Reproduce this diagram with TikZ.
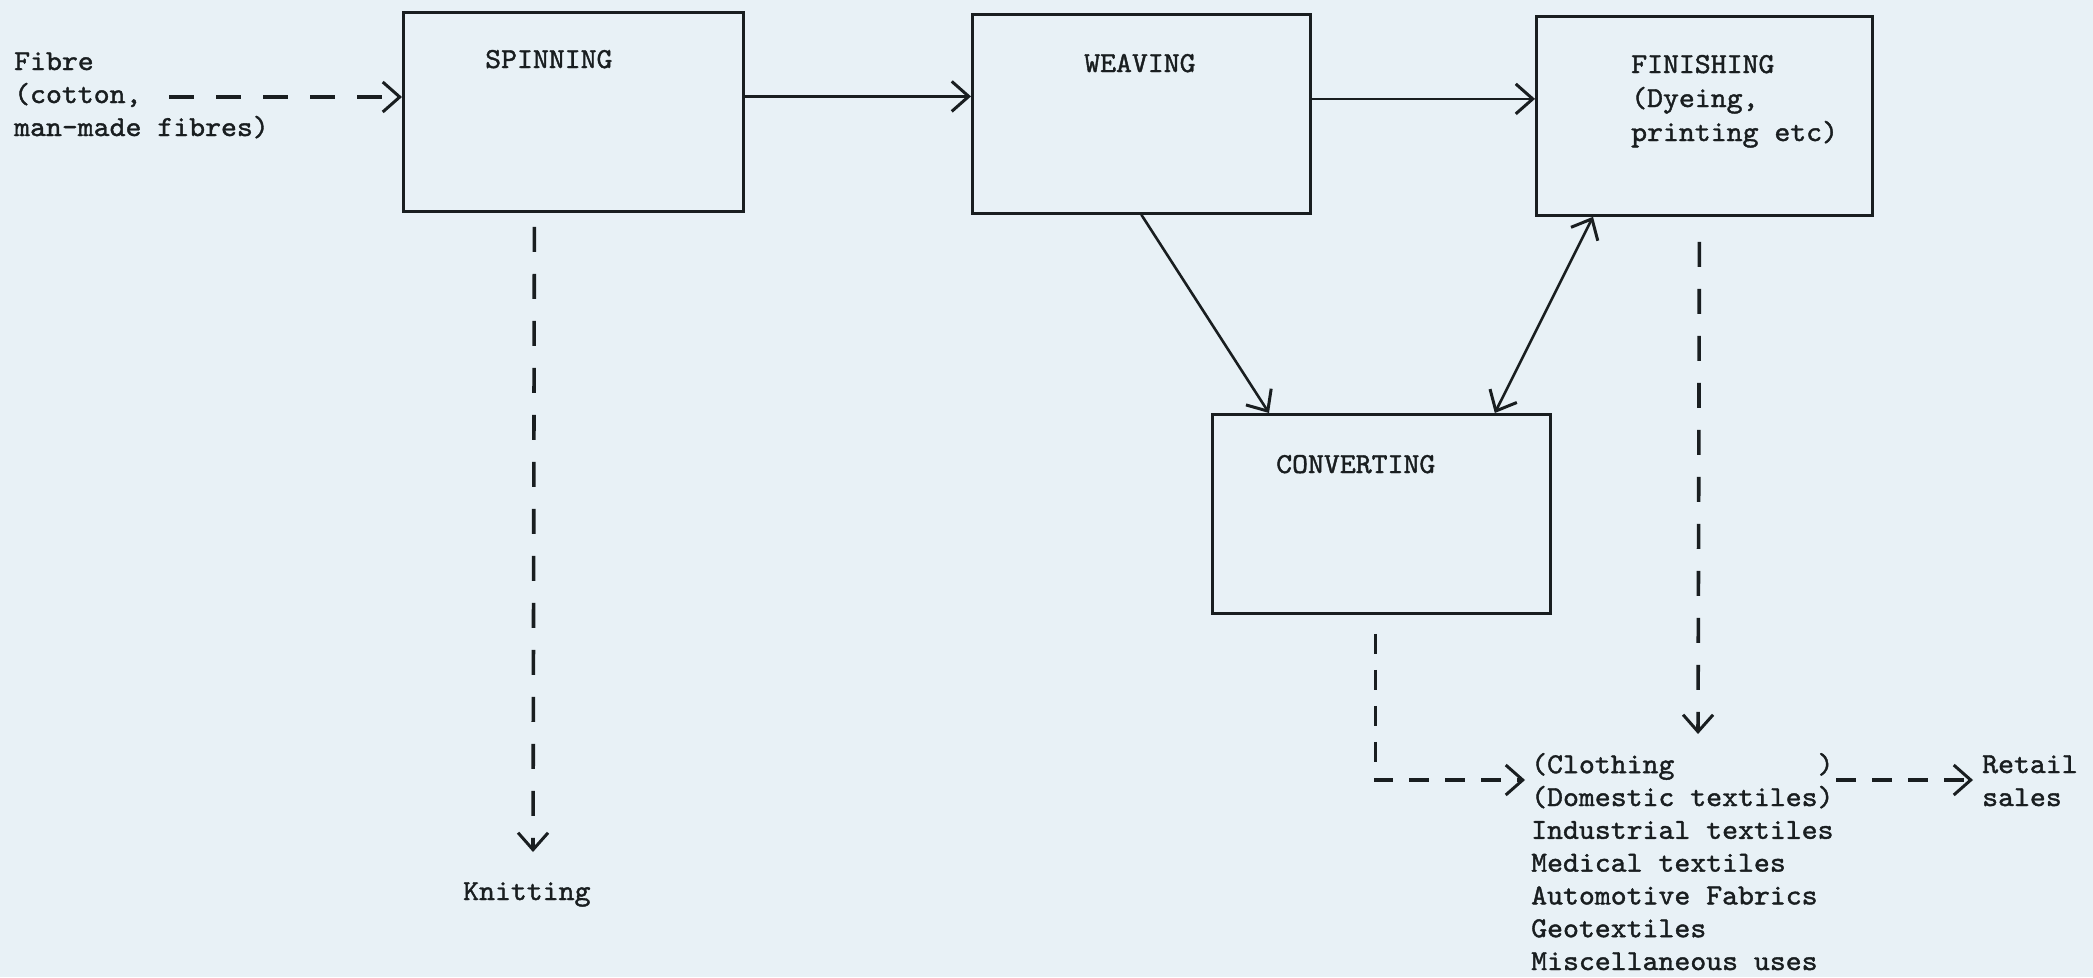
\documentclass[tikz,border=0pt]{standalone}
\usepackage{fontspec}
\newfontfamily\twfont[FakeStretch=1.045,FakeBold=1.4]{lmmono10-regular.otf}
\usetikzlibrary{arrows.meta}
\definecolor{paper}{RGB}{232,241,246}
\definecolor{ink}{RGB}{25,30,32}
\begin{document}
\begin{tikzpicture}[x=1pt,y=-1pt,
  every node/.style={inner sep=0pt, text=ink},
  tw/.style={font=\twfont\fontsize{29}{33}\selectfont, align=left, anchor=base west},
  procbox/.style={draw=ink, line width=2.8pt, anchor=north west, minimum width=#1, minimum height=199pt},
  barb/.tip={Straight Barb[length=17pt,width=30pt,line width=3pt]},
  solidarrow/.style={draw=ink, line width=2.6pt, -barb},
  dasharrow/.style={draw=ink, line width=3.6pt, dash pattern=on 25pt off 22pt, -barb},
  shortdash/.style={draw=ink, line width=3.4pt, dash pattern=on 20pt off 16pt, -barb},
  ]
\fill[paper] (0,0) rectangle (2093,977);
\useasboundingbox (0,0) rectangle (2093,977);

% boxes
\node[procbox=340pt] (spin) at (402,11) {};
\node[procbox=338pt] (weave) at (971,13) {};
\node[procbox=336pt] (finish) at (1535,15) {};
\node[procbox=338pt] (conv) at (1211,413) {};

% texts (base anchor = baseline of the last line)
\node[tw] (fibre) at (14,136) {Fibre\\(cotton,\\man-made fibres)};
\node[tw] (spintext) at (485,68) {SPINNING};
\node[tw] (weavetext) at (1084,72) {WEAVING};
\node[tw, font=\twfont\fontsize{29}{34}\selectfont] (finishtext) at (1631,141) {FINISHING\\(Dyeing,\\printing etc)};
\node[tw] (convtext) at (1276,473) {CONVERTING};
\node[tw] (knit) at (463,900) {Knitting};
\node[tw, font=\twfont\fontsize{29}{32.8}\selectfont] (prod) at (1531,970) {(Clothing\phantom{xxxxxxxxx})\\(Domestic textiles)\\Industrial textiles\\Medical textiles\\Automotive Fabrics\\Geotextiles\\Miscellaneous uses};
\node[tw] (retail) at (1982,806) {Retail\\sales};

% connector ends
\coordinate (fibreend) at (169,97);
\coordinate (knittip) at (533,852);
\coordinate (finishtip) at (1698,734);
\coordinate (convtip) at (1525,780);
\coordinate (prodend) at (1836,780);
\coordinate (retailtip) at (1973,780);

% connectors
\draw[dasharrow] (fibreend) -- (fibreend -| spin.west);
\draw[solidarrow] ([yshift=15.5pt]spin.east) -- ([yshift=15.5pt]spin.east -| weave.west);
\draw[solidarrow] ([yshift=15pt]weave.east) -- ([yshift=15pt]weave.east -| finish.west);
\draw[solidarrow] (weave.south) -- ([xshift=58pt]conv.north west);
\draw[draw=ink, line width=2.6pt, barb-barb]
  ([xshift=58pt]finish.south west) -- ([xshift=-57pt]conv.north east);
\draw[dasharrow] ([xshift=-39pt,yshift=-14pt]spin.south) -- (knittip);
\draw[dasharrow] ([xshift=-5pt,yshift=-25pt]finish.south) -- (finishtip);
\draw[shortdash] ([xshift=-6pt,yshift=-19pt]conv.south) |- (convtip);
\draw[shortdash] (prodend) -- (retailtip);
\end{tikzpicture}
\end{document}
